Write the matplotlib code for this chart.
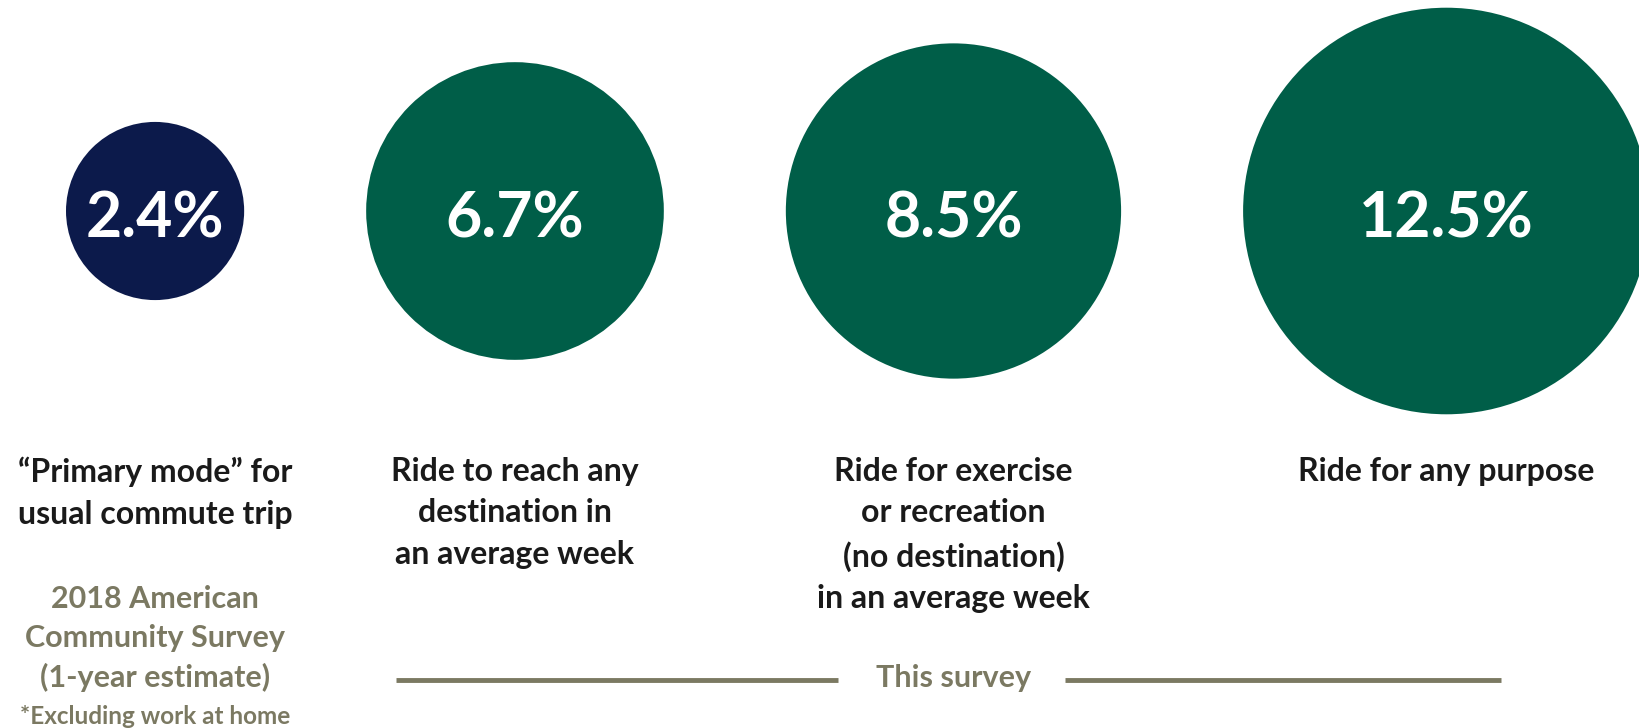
import numpy as np
import matplotlib
matplotlib.use("Agg")
import matplotlib.pyplot as plt
from matplotlib.patches import Circle

# Valores do gráfico
values = [2.4, 6.7, 8.5, 12.5]
value_labels = ["2.4%", "6.7%", "8.5%", "12.5%"]
categories = [
    "\u201cPrimary mode\u201d for\nusual commute trip",
    "Ride to reach any\ndestination in\nan average week",
    "Ride for exercise\nor recreation\n(no destination)\nin an average week",
    "Ride for any purpose",
]
source_note = "2018 American\nCommunity Survey\n(1-year estimate)"
footnote = "*Excluding work at home"
bracket_label = "This survey"

# Estilos
NAVY = "#0c1a4b"
GREEN = "#005e48"
OLIVE = "#7b7962"
circle_colors = [NAVY, GREEN, GREEN, GREEN]

plt.rcParams["font.family"] = ["Lato", "DejaVu Sans"]

fig = plt.figure(figsize=(16.4, 7.28), dpi=100)
ax = fig.add_axes([0, 0, 1, 1])
ax.set_xlim(0, 1640)
ax.set_ylim(728, 0)
ax.axis("off")

# Raio proporcional à área (px por sqrt(%))
scale = 57.5
radii = scale * np.sqrt(values)
gap = 122
left = 66
cy = 211

centers = []
x = left
for r in radii:
    centers.append(x + r)
    x += 2 * r + gap

for cx, r, col, lab in zip(centers, radii, circle_colors, value_labels):
    ax.add_patch(Circle((cx, cy), r, color=col, lw=0))
    ax.text(cx, cy + 9, lab, color="white", fontsize=45, fontweight="bold",
            ha="center", va="center")

# Rótulos das categorias
for cx, cat in zip(centers, categories):
    ax.text(cx, 457, cat, color="#1a1a1a", fontsize=23, fontweight="bold",
            ha="center", va="top", linespacing=1.52)

ax.text(centers[0], 585, source_note, color=OLIVE, fontsize=22,
        fontweight="bold", ha="center", va="top", linespacing=1.46)
ax.text(centers[0], 717, footnote, color=OLIVE, fontsize=17.5,
        fontweight="bold", ha="center", va="center")

# Colchete "This survey"
mid = centers[2]
start = centers[1] - radii[1] + 30
end = centers[3] + 55
ax.plot([start, mid - 115], [680, 680], color=OLIVE, lw=3.5, solid_capstyle="butt")
ax.plot([mid + 112, end], [680, 680], color=OLIVE, lw=3.5, solid_capstyle="butt")
ax.text(mid, 678, bracket_label, color=OLIVE, fontsize=22, fontweight="bold",
        ha="center", va="center")

fig.savefig("out.png", dpi=100, facecolor="white")
